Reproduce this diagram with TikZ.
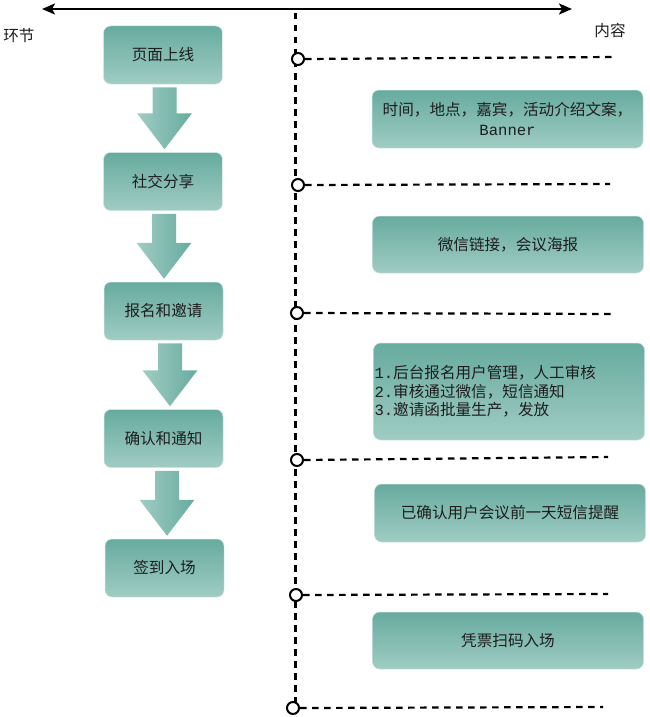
\documentclass[tikz,border=0pt]{standalone}
\usepackage{fontspec}
\setmainfont{Noto Sans CJK SC}
\newfontfamily\monof{Liberation Mono}
\usetikzlibrary{arrows.meta,calc}
\definecolor{gtop}{RGB}{103,171,159}
\definecolor{gbot}{RGB}{160,204,195}
\definecolor{txt}{RGB}{30,30,30}
\newcommand\flowarrow[3]{%
  \path[arrowfill] let \p1=(#2.south), \p2=(#3.north) in
    ({#1pt-12pt},{\y1-3pt}) -- ({#1pt+12pt},{\y1-3pt}) -- ({#1pt+12pt},{\y2+39pt})
    -- ({#1pt+27.5pt},{\y2+39pt}) -- ({#1pt},{\y2+3pt}) -- ({#1pt-27.5pt},{\y2+39pt})
    -- ({#1pt-12pt},{\y2+39pt}) -- cycle;
}
\begin{document}
\begin{tikzpicture}[x=1pt,y=-1pt,
  every node/.style={text=txt},
  stagebox/.style={rounded corners=7pt, top color=gtop, bottom color=gbot,
    draw=gbot!50!white, line width=0.5pt, minimum width=119pt, minimum height=58pt,
    inner sep=0pt, font=\fontsize{15.6}{19}\selectfont},
  infobox/.style={stagebox, minimum width=271pt},
  arrowfill/.style={left color=gbot, right color=gtop},
  dline/.style={line width=2.2pt, dash pattern=on 6.5pt off 5.5pt},
  knot/.style={circle, draw=black, fill=white, line width=2pt, minimum size=12pt, inner sep=0pt},
  lbl/.style={font=\fontsize{15.6}{19}\selectfont}]
\useasboundingbox (0,0) rectangle (649,717);

% axis arrow
\coordinate (axL) at (42,9);
\coordinate (axR) at (572,9);
\draw[line width=2pt, {Stealth[length=13pt,width=11pt,inset=3pt]}-{Stealth[length=13pt,width=11pt,inset=3pt]}] (axL) -- (axR);
\node[lbl] (hj) at (19,36) {环节};
\node[lbl] (nr) at (610,31) {内容};

% stage boxes
\node[stagebox] (b1) at (163,55) {页面上线};
\node[stagebox] (b2) at (163,181.5) {社交分享};
\node[stagebox] (b3) at (163.5,311) {报名和邀请};
\node[stagebox] (b4) at (163.5,438.5) {确认和通知};
\node[stagebox] (b5) at (164.5,568) {签到入场};

\flowarrow{164.5}{b1}{b2}
\flowarrow{164}{b2}{b3}
\flowarrow{170}{b3}{b4}
\flowarrow{167}{b4}{b5}

% timeline
\coordinate (vtop) at (295.5,13);
\coordinate (vbot) at (295.5,702);
\draw[dline] (vtop) -- (vbot);
\node[knot] (c1) at (298,59) {};
\node[knot] (c2) at (298,185) {};
\node[knot] (c3) at (297,313) {};
\node[knot] (c4) at (297,460) {};
\node[knot] (c5) at (296,595) {};
\node[knot] (c6) at (293,708) {};

\coordinate (e1) at (613,57);
\coordinate (e2) at (610,184);
\coordinate (e3) at (612,314);
\coordinate (e4) at (608,457);
\coordinate (e5) at (608,594);
\coordinate (e6) at (603,707);
\draw[dline] (c1.east) -- (e1);
\draw[dline] (c2.east) -- (e2);
\draw[dline] (c3.east) -- (e3);
\draw[dline] (c4.east) -- (e4);
\draw[dline] (c5.east) -- (e5);
\draw[dline] (c6.east) -- (e6);

% info boxes
\node[infobox, align=center, font=\fontsize{15.6}{20}\selectfont] (rA) at (507.5,119)
  {时间，地点，嘉宾，活动介绍文案，\\{\monof Banner}};
\node[infobox, minimum height=57pt] (rB) at (508,244.5) {微信链接，会议海报};
\node[infobox, minimum height=97pt, align=left, text width=269pt, inner xsep=1pt,
  font=\fontsize{15.6}{18.6}\selectfont] (rC) at (509,391.5)
  {{\monof 1.}后台报名用户管理，人工审核\\{\monof 2.}审核通过微信，短信通知\\{\monof 3.}邀请函批量生产，发放};
\node[infobox] (rD) at (510,513) {已确认用户会议前一天短信提醒};
\node[infobox, minimum height=57pt] (rE) at (508,640.5) {凭票扫码入场};
\end{tikzpicture}
\end{document}
